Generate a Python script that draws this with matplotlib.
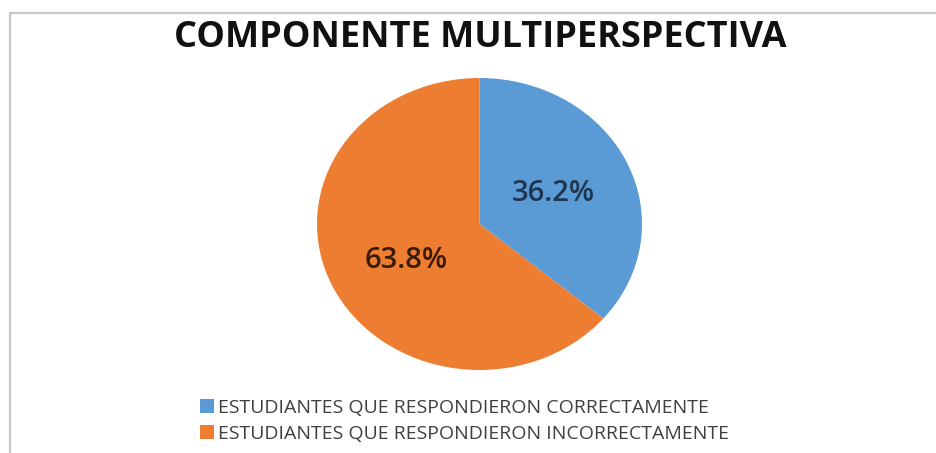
import matplotlib
matplotlib.use('Agg')
import matplotlib.pyplot as plt
from matplotlib.patches import Rectangle

title = 'COMPONENTE MULTIPERSPECTIVA'
labels = ['ESTUDIANTES QUE RESPONDIERON CORRECTAMENTE',
          'ESTUDIANTES QUE RESPONDIERON INCORRECTAMENTE']
values = [36.2, 63.8]
colors = ['#5b9bd5', '#ed7d31']
pct_colors = ['#1f3551', '#3a1c05']

plt.rcParams['font.family'] = ['Open Sans', 'DejaVu Sans']

fig = plt.figure(figsize=(9.37, 4.53), dpi=100)

# grey frame on the left and top edges
fig.add_artist(Rectangle((10 / 937, -0.1), 1.2, (453 - 13) / 453 + 0.1,
                         transform=fig.transFigure, fill=False,
                         edgecolor='#c8c8c8', linewidth=1.6))

fig.text(480 / 937, 1 - 38 / 453, title, ha='center', va='center',
         fontsize=26, fontweight='bold', color='#111111')

ax = fig.add_axes([317 / 937, 1 - 370 / 453, 325 / 937, 292 / 453])
wedges, texts, autotexts = ax.pie(values, colors=colors, startangle=90,
                                  counterclock=False, autopct='%.1f%%',
                                  pctdistance=0.5,
                                  wedgeprops=dict(linewidth=0))
ax.set_aspect('auto')
ax.set_xlim(-1, 1)
ax.set_ylim(-1, 1)
for t, c in zip(autotexts, pct_colors):
    t.set_color(c)
    t.set_fontsize(21)
    t.set_fontweight('semibold')
autotexts[1].set_y(autotexts[1].get_position()[1] - 0.04)

leg = fig.legend(wedges, labels, loc='upper left',
                 bbox_to_anchor=(200 / 937, 1 - 399 / 453),
                 frameon=False, fontsize=14, handlelength=0.7,
                 handleheight=0.7, handletextpad=0.25, labelspacing=0.4,
                 borderpad=0, borderaxespad=0)
for t in leg.get_texts():
    t.set_color('#404040')

fig.savefig('out.png', dpi=100)
